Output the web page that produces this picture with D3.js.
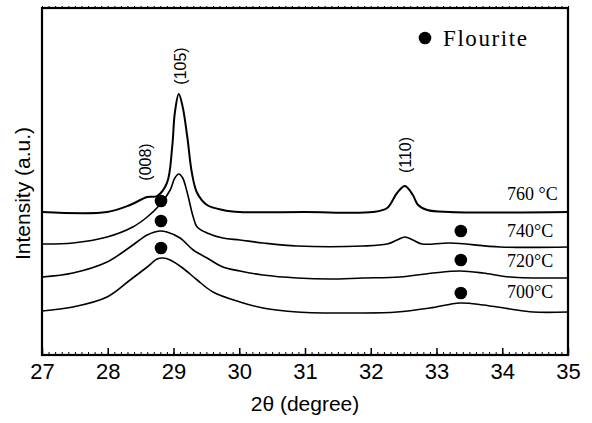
<!DOCTYPE html>
<html>
<head>
  <meta charset="utf-8">
  <title>XRD patterns</title>
  <script src="https://d3js.org/d3.v7.min.js"></script>
  <style>
    body { margin: 0; background: #fff; }
    svg { display: block; }
  </style>
</head>
<body>
<div id="chart"></div>
<script>
// 2theta positions and intensity (a.u.), curves stacked
var temps = ["760 °C", "740°C", "720°C", "700°C"];

var curve760 = [
  [27.00, 143], [27.99, 143], [28.34, 150], [28.60, 158], [28.75, 159], [28.90, 172],
  [28.98, 208], [29.02, 242], [29.08, 261], [29.14, 248], [29.21, 218], [29.28, 182],
  [29.36, 162], [29.51, 150], [29.75, 145], [30.01, 143], [31.00, 143], [32.03, 143],
  [32.25, 147], [32.40, 162], [32.52, 169], [32.64, 160], [32.72, 150], [32.86, 145],
  [33.20, 143], [35.00, 143]
];
var curve740 = [
  [27.00, 111], [27.47, 112], [27.99, 118], [28.38, 128], [28.60, 138], [28.79, 150],
  [28.95, 165], [29.02, 177], [29.08, 181], [29.14, 177], [29.21, 162], [29.30, 138],
  [29.36, 128], [29.51, 122], [29.75, 117], [30.01, 115], [30.36, 112], [30.88, 109],
  [31.88, 109], [32.25, 111], [32.40, 115], [32.52, 118], [32.64, 115], [32.78, 111],
  [33.21, 112], [33.97, 108], [35.00, 108]
];
var curve720 = [
  [27.00, 78], [27.47, 82], [27.99, 93], [28.34, 108], [28.60, 120], [28.79, 124],
  [28.90, 123], [29.10, 117], [29.30, 105], [29.51, 97], [29.75, 88], [30.01, 84],
  [30.36, 80], [30.88, 77], [31.38, 76], [31.88, 77], [32.44, 78], [32.95, 82],
  [33.36, 84], [33.71, 82], [34.12, 78], [35.00, 77]
];
var curve700 = [
  [27.00, 44], [27.47, 48], [27.99, 58], [28.34, 75], [28.60, 88], [28.75, 96],
  [28.84, 97], [28.95, 95], [29.14, 87], [29.36, 75], [29.60, 63], [30.01, 53],
  [30.36, 47], [30.88, 43], [31.88, 42], [32.40, 43], [32.90, 47], [33.36, 52],
  [33.71, 50], [34.12, 46], [34.47, 43], [35.00, 43]
];
var curves = [curve760, curve740, curve720, curve700];

// label baseline intensity for each temperature
var tempLabelY = [155, 118, 88, 57];

// flourite markers
var flourite = [
  [28.81, 154], [28.81, 134], [28.81, 107],
  [33.37, 124], [33.37, 95], [33.37, 62]
];

// peak indices: label, 2theta, intensity at centre of label
var peaks = [
  ["(008)", 28.58, 193],
  ["(105)", 29.10, 289],
  ["(110)", 32.53, 200]
];

var xTicks = [27, 28, 29, 30, 31, 32, 33, 34, 35];

var W = 592, H = 423;
var plotL = 42, plotR = 568, plotT = 8, plotB = 355;

var svg = d3.select("#chart").append("svg")
  .attr("width", W)
  .attr("height", H);

var x = d3.scaleLinear().domain([27, 35]).range([plotL, plotR]);
var y = d3.scaleLinear().domain([0, 347]).range([plotB, plotT]);

var line = d3.line()
  .x(function (d) { return x(d[0]); })
  .y(function (d) { return y(d[1]); })
  .curve(d3.curveCatmullRom.alpha(0.5));

svg.selectAll("path.xrd")
  .data(curves)
  .enter().append("path")
  .attr("class", "xrd")
  .attr("d", line)
  .attr("fill", "none")
  .attr("stroke", "#000")
  .attr("stroke-width", function (d, i) { return i == 0 ? 2 : 1.6; });

svg.selectAll("circle.fl")
  .data(flourite)
  .enter().append("circle")
  .attr("class", "fl")
  .attr("cx", function (d) { return x(d[0]); })
  .attr("cy", function (d) { return y(d[1]); })
  .attr("r", 6.3)
  .attr("fill", "#000");

// temperature labels
svg.selectAll("text.temp")
  .data(temps)
  .enter().append("text")
  .attr("class", "temp")
  .attr("x", 507)
  .attr("y", function (d, i) { return y(tempLabelY[i]); })
  .attr("font-family", "'Liberation Serif', 'Times New Roman', serif")
  .attr("font-size", 18)
  .text(function (d) { return d; });

// peak labels, rotated
svg.selectAll("text.peak")
  .data(peaks)
  .enter().append("text")
  .attr("class", "peak")
  .attr("transform", function (d) { return "translate(" + x(d[1]) + "," + y(d[2]) + ") rotate(-90)"; })
  .attr("text-anchor", "middle")
  .attr("dominant-baseline", "central")
  .attr("font-family", "'Liberation Sans', Arial, sans-serif")
  .attr("font-size", 16)
  .text(function (d) { return d[0]; });

// legend
svg.append("circle")
  .attr("cx", 425).attr("cy", 38).attr("r", 6.3).attr("fill", "#000");
svg.append("text")
  .attr("x", 443).attr("y", 46)
  .attr("font-family", "'Liberation Serif', 'Times New Roman', serif")
  .attr("font-size", 23)
  .attr("textLength", 84)
  .text("Flourite");

// axes
var minor = d3.range(270, 351).map(function (v) { return v / 10; });

svg.append("g")
  .attr("transform", "translate(0," + plotB + ")")
  .call(d3.axisBottom(x).tickValues(minor).tickSize(-3).tickFormat(""))
  .call(function (g) { g.select(".domain").remove(); });

svg.append("g")
  .attr("transform", "translate(0," + plotT + ")")
  .call(d3.axisTop(x).tickValues(minor).tickSize(2).tickFormat(""))
  .call(function (g) { g.select(".domain").remove(); });

var xAxis = svg.append("g")
  .attr("transform", "translate(0," + plotB + ")")
  .call(d3.axisBottom(x).tickValues(xTicks).tickSize(-7).tickPadding(8).tickFormat(d3.format("d")));
xAxis.select(".domain").remove();
xAxis.selectAll("line").attr("stroke-width", 1.5);
xAxis.selectAll("text")
  .attr("font-family", "'Liberation Sans', Arial, sans-serif")
  .attr("font-size", 22)
  .attr("fill", "#000");

svg.append("rect")
  .attr("x", plotL).attr("y", plotT)
  .attr("width", plotR - plotL).attr("height", plotB - plotT)
  .attr("fill", "none")
  .attr("stroke", "#000")
  .attr("stroke-width", 2.2);

svg.append("text")
  .attr("transform", "translate(30," + ((plotT + plotB) / 2 + 12) + ") rotate(-90)")
  .attr("text-anchor", "middle")
  .attr("font-family", "'Liberation Sans', Arial, sans-serif")
  .attr("font-size", 21)
  .text("Intensity (a.u.)");

svg.append("text")
  .attr("x", (plotL + plotR) / 2)
  .attr("y", 411)
  .attr("text-anchor", "middle")
  .attr("font-family", "'Liberation Sans', Arial, sans-serif")
  .attr("font-size", 21)
  .text("2θ (degree)");
</script>
</body>
</html>
